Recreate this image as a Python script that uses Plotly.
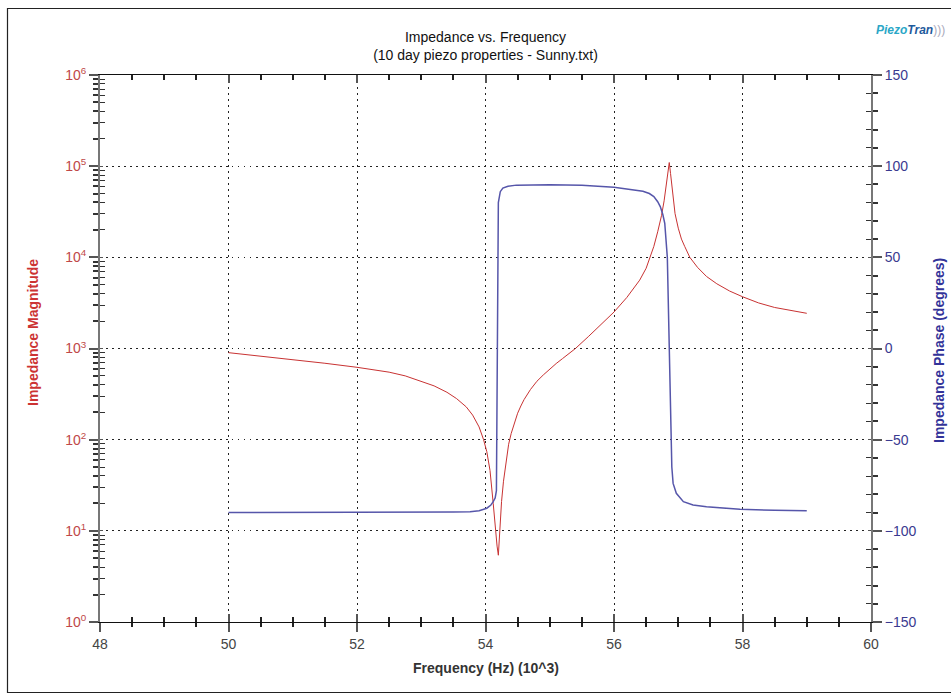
import plotly.graph_objects as go

# ---- data ----
freq_mag = [50.0, 50.5, 51.0, 51.5, 52.0, 52.25, 52.5, 52.75, 53.0, 53.2, 53.4, 53.55,
            53.7, 53.8, 53.9, 53.97, 54.02, 54.07, 54.12, 54.15, 54.18, 54.2, 54.22,
            54.25, 54.28, 54.32, 54.36, 54.4, 54.45, 54.5, 54.55, 54.6, 54.7, 54.8,
            54.9, 55.0, 55.1, 55.2, 55.3, 55.4, 55.6, 55.8, 56.0, 56.2, 56.4, 56.5,
            56.56, 56.62, 56.68, 56.74, 56.78, 56.82, 56.86, 56.88, 56.9, 56.92,
            56.95, 57.0, 57.05, 57.1, 57.18, 57.3, 57.44, 57.6, 57.8, 58.0, 58.25,
            58.5, 58.75, 59.0]
impedance = [900, 826, 755, 689, 622, 589, 550, 501, 437, 389, 331, 282,
             229, 186, 138, 100, 74, 46, 20, 11, 6.8, 5.4, 10,
             21, 35, 60, 89, 117, 155, 195, 234, 275, 355, 437,
             513, 596, 684, 776, 881, 1000, 1349, 1841, 2512, 3631, 5623, 7586,
             10000, 13183, 19055, 28840, 41687, 66069, 109650, 83176, 60256, 42658,
             30200, 20893, 15849, 13183, 10000, 7762, 6166, 5129, 4266, 3698, 3162,
             2818, 2600, 2432]

freq_ph = [50.0, 51.0, 52.0, 53.0, 53.5, 53.76, 53.9, 54.02, 54.08, 54.12, 54.15,
           54.17, 54.175, 54.18, 54.185, 54.19, 54.2, 54.23, 54.27, 54.35, 54.48,
           55.0, 55.5, 56.0, 56.3, 56.45, 56.55, 56.62, 56.68, 56.72, 56.76, 56.79,
           56.83, 56.86, 56.88, 56.9, 56.92, 56.97, 57.08, 57.23, 57.44, 57.96,
           58.5, 59.0]
phase = [-90.0, -90.0, -89.9, -89.8, -89.7, -89.5, -89.0, -87.6, -86.0, -84.0, -82.0,
         -78.0, -40.0, 0.0, 40.0, 70.0, 80.0, 86.0, 88.0, 89.0, 89.6,
         89.8, 89.6, 88.4, 87.2, 86.2, 85.0, 83.3, 80.5, 77.8, 73.5, 68.7,
         50.0, 0.0, -50.0, -65.0, -74.0, -79.4, -84.0, -85.8, -86.8, -88.2,
         -88.7, -89.0]

mag_tickvals = [1, 10, 100, 1000, 10000, 100000, 1000000]
mag_ticktext = ["10<sup>0</sup>", "10<sup>1</sup>", "10<sup>2</sup>", "10<sup>3</sup>",
                "10<sup>4</sup>", "10<sup>5</sup>", "10<sup>6</sup>"]
mag_minor = [m * d for d in [1, 10, 100, 1000, 10000, 100000] for m in range(2, 10)]

FONT = "Liberation Sans, Arial, sans-serif"
RED = "#c83232"
BLUE = "#5656aa"
GRID_DASH = "1.5px,4.5px"

W, H = 951, 694
L, R, T, B = 100, 80, 75, 72
PW, PH = W - L - R, H - T - B


def px(xp):  # page x -> paper x
    return (xp - L) / PW


def py(yp):  # page y -> paper y
    return (H - B - yp) / PH


fig = go.Figure()
fig.add_trace(go.Scatter(x=freq_mag, y=impedance, mode="lines",
                         line=dict(color=RED, width=1), yaxis="y", showlegend=False))
fig.add_trace(go.Scatter(x=freq_ph, y=phase, mode="lines",
                         line=dict(color=BLUE, width=1.5), yaxis="y2", showlegend=False))
# empty helper traces so the inside-tick overlay axes are drawn
fig.add_trace(go.Scatter(x=[], y=[], xaxis="x2", yaxis="y", showlegend=False, hoverinfo="skip"))
fig.add_trace(go.Scatter(x=[], y=[], xaxis="x", yaxis="y3", showlegend=False, hoverinfo="skip"))
fig.add_trace(go.Scatter(x=[], y=[], xaxis="x", yaxis="y4", showlegend=False, hoverinfo="skip"))

fig.update_layout(
    width=W, height=H,
    margin=dict(l=L, r=R, t=T, b=B),
    paper_bgcolor="white", plot_bgcolor="white",
    font=dict(family=FONT, size=14, color="#333"),
    title=dict(text="Impedance vs. Frequency<br>(10 day piezo properties - Sunny.txt)",
               x=485.5 / W, xanchor="center", y=1 - 41.5 / H, yanchor="middle",
               font=dict(family=FONT, size=14, color="#111")),
    xaxis=dict(range=[48, 60], tick0=48, dtick=2, ticks="outside", ticklen=9,
               tickcolor="#555", tickwidth=1.5,
               minor=dict(dtick=0.5, ticks="outside", ticklen=4, tickcolor="#222"),
               showgrid=True, griddash=GRID_DASH, gridcolor="#222", gridwidth=1,
               showline=True, linecolor="#111", linewidth=1, mirror=True,
               zeroline=False, tickfont=dict(color="#444", size=14)),
    xaxis2=dict(range=[48, 60], tick0=48, dtick=2, overlaying="x", anchor="y", side="bottom",
                ticks="inside", ticklen=8, tickcolor="#555", tickwidth=1.5,
                minor=dict(dtick=0.5, ticks="inside", ticklen=5, tickcolor="#222"),
                mirror="ticks", showgrid=False, showline=False, zeroline=False,
                showticklabels=False),
    yaxis=dict(type="log", range=[0, 6], tickvals=mag_tickvals, ticktext=mag_ticktext,
               ticks="outside", ticklen=9, tickcolor="#555", tickwidth=1.5,
               minor=dict(tickvals=mag_minor, ticks="outside", ticklen=5, tickcolor="#333"),
               showgrid=True, griddash=GRID_DASH, gridcolor="#222", gridwidth=1,
               showline=True, linecolor="#777", linewidth=2,
               zeroline=False, tickfont=dict(color="#c04848", size=14)),
    yaxis3=dict(type="log", range=[0, 6], overlaying="y", anchor="x", side="left",
                tickvals=mag_tickvals, ticks="inside", ticklen=3, tickcolor="#555",
                minor=dict(tickvals=mag_minor, ticks="inside", ticklen=5, tickcolor="#333"),
                showgrid=False, showline=False, zeroline=False, showticklabels=False),
    yaxis2=dict(range=[-150, 150], dtick=50, overlaying="y", side="right", anchor="x",
                ticks="outside", ticklen=9, tickcolor="#555", tickwidth=1.5,
                minor=dict(dtick=10, ticks="outside", ticklen=5, tickcolor="#333"),
                showgrid=False, showline=True, linecolor="#777", linewidth=2,
                zeroline=False, tickfont=dict(color="#3a3a90", size=14)),
    yaxis4=dict(range=[-150, 150], dtick=50, overlaying="y", side="right", anchor="x",
                ticks="inside", ticklen=3, tickcolor="#555",
                minor=dict(dtick=10, ticks="inside", ticklen=5, tickcolor="#333"),
                showgrid=False, showline=False, zeroline=False, showticklabels=False),
    annotations=[
        dict(text="<b>Frequency (Hz) (10^3)</b>", xref="paper", yref="paper",
             x=0.5, y=py(668), xanchor="center", yanchor="middle",
             showarrow=False, font=dict(family=FONT, size=14, color="#333")),
        dict(text="<b>Impedance Magnitude</b>", xref="paper", yref="paper",
             x=px(33), y=py(333), xanchor="center", yanchor="middle",
             textangle=-90, showarrow=False, font=dict(family=FONT, size=14, color="#cc3333")),
        dict(text="<b>Impedance Phase (degrees)</b>", xref="paper", yref="paper",
             x=px(939), y=py(350), xanchor="center", yanchor="middle",
             textangle=-90, showarrow=False, font=dict(family=FONT, size=14, color="#333399")),
        dict(text="<b><i><span style='color:#2aa7c7'>Piezo</span><span style='color:#1f5a9c'>Tran</span></i></b><span style='color:#aab'>)))</span>",
             xref="paper", yref="paper", x=px(910), y=py(30),
             xanchor="center", yanchor="middle", showarrow=False,
             font=dict(family=FONT, size=12)),
    ],
    shapes=[
        dict(type="rect", xref="paper", yref="paper",
             x0=px(7.5), x1=px(960), y0=py(692.5), y1=py(8.5),
             line=dict(color="#222", width=1.2), fillcolor="rgba(0,0,0,0)", layer="below"),
    ],
)

fig.write_html("out.html", config={"displayModeBar": False},
               post_script="document.body.style.margin='0px';document.body.style.overflow='hidden';")
